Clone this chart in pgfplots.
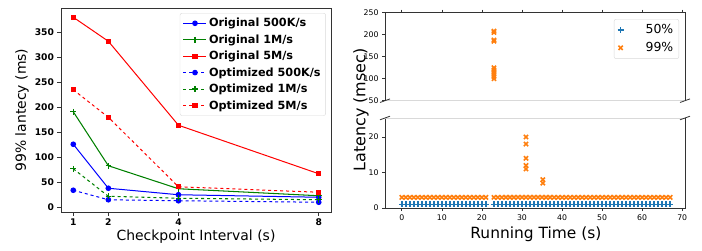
\documentclass[border=0pt]{standalone}
\usepackage{fontspec}
\setmainfont{DejaVu Sans}
\usepackage{pgfplots}
\pgfplotsset{compat=1.18}
\usepackage{pgfplotstable}
\definecolor{tabblue}{HTML}{1F77B4}
\definecolor{taborange}{HTML}{FF7F0E}
\definecolor{mgreen}{RGB}{0,128,0}
\definecolor{spine}{gray}{0.2}
\definecolor{lightspine}{gray}{0.85}

\pgfplotstableread{
x p50 p99
0 1 3
1 1 3
2 1 3
3 1 3
4 1 3
5 1 3
6 1 3
7 1 3
8 1 3
9 1 3
10 1 3
11 1 3
12 1 3
13 1 3
14 1 3
15 1 3
16 1 3
17 1 3
18 1 3
19 1 3
20 1 3
21 1 3
23 1 3
24 1 3
25 1 3
26 1 3
27 1 3
28 1 3
29 1 3
30 1 3
31 1 3
32 1 3
33 1 3
34 1 3
35 1 3
36 1 3
37 1 3
38 1 3
39 1 3
40 1 3
41 1 3
42 1 3
43 1 3
44 1 3
45 1 3
46 1 3
47 1 3
48 1 3
49 1 3
50 1 3
51 1 3
52 1 3
53 1 3
54 1 3
55 1 3
56 1 3
57 1 3
58 1 3
59 1 3
60 1 3
61 1 3
62 1 3
63 1 3
64 1 3
65 1 3
66 1 3
67 1 3
}\base

\pgfplotstableread{
x y
23 100
23 105
23 110
23 115
23 120
23 125
23 185
23 188
23 205
23 208
}\outtop

\pgfplotstableread{
x y
31 11
31 12
31 14
31 18
31 20
35.2 7
35.2 8
}\outbot

\begin{document}
\begin{tikzpicture}
\path[use as bounding box] (0bp,0bp) rectangle (702bp,251bp);

% ---------------- left chart ----------------
\begin{axis}[
  at={(61bp,39bp)}, anchor=south west, scale only axis,
  width=270bp, height=204bp,
  xmin=0.65, xmax=8.35, ymin=-9.5, ymax=398.5,
  xtick={1,2,4,8}, ytick={0,50,...,350},
  tick align=outside, xtick pos=bottom, ytick pos=left,
  major tick length=3.5bp,
  tick style={spine, line width=0.8bp},
  axis line style={spine, line width=0.8bp},
  /pgf/number format/assume math mode=true,
  ticklabel style={font=\fontsize{9.2}{10}\selectfont\bfseries},
  xlabel={Checkpoint Interval (s)},
  ylabel={99\% lantecy (ms)},
  label style={font=\fontsize{14}{16}\selectfont},
  xlabel style={at={(axis description cs:0.5,-0.1225)}, anchor=center},
  ylabel style={at={(axis description cs:-0.1444,0.5)}, anchor=center},
  legend style={at={(0.981,0.975)}, anchor=north east,
    font=\fontsize{11.3}{13}\selectfont\bfseries, draw=black!15,
    rounded corners=2bp, row sep=2.4bp, inner sep=3bp},
  legend cell align=left,
  legend image code/.code={\draw[mark repeat=2,mark phase=2] plot coordinates {(0bp,0bp) (11.5bp,0bp) (23bp,0bp)};},
]
\addplot[color=blue, line width=1bp, mark=*, mark size=2.3bp] coordinates {(1,126) (2,38) (4,25) (8,20)};
\addlegendentry{Original 500K/s}
\addplot[color=mgreen, line width=1.05bp, mark=+, mark size=2.8bp, mark options={solid, line width=1.2bp}] coordinates {(1,191) (2,83) (4,37) (8,23)};
\addlegendentry{Original 1M/s}
\addplot[color=red, line width=1bp, mark=square*, mark size=2.1bp] coordinates {(1,380) (2,332) (4,164) (8,67)};
\addlegendentry{Original 5M/s}
\addplot[color=blue, line width=1bp, dashed, mark=*, mark size=2.3bp, mark options={solid}] coordinates {(1,34) (2,15) (4,13) (8,10)};
\addlegendentry{Optimized 500K/s}
\addplot[color=mgreen, line width=1.05bp, dashed, mark=+, mark size=2.8bp, mark options={solid, line width=1.2bp}] coordinates {(1,77) (2,22) (4,18) (8,15)};
\addlegendentry{Optimized 1M/s}
\addplot[color=red, line width=1bp, dashed, mark=square*, mark size=2.1bp, mark options={solid}] coordinates {(1,235) (2,180) (4,41) (8,30)};
\addlegendentry{Optimized 5M/s}
\end{axis}

% ---------------- right chart, top panel ----------------
\begin{axis}[
  name=top,
  at={(385bp,150.3bp)}, anchor=south west, scale only axis,
  width=300bp, height=88bp,
  xmin=-4.2, xmax=70.7, ymin=50, ymax=250,
  xtick={0,10,...,70}, xticklabels={},
  ytick={50,100,...,250},
  tick align=outside, xtick pos=top, ytick pos=left,
  major tick length=3bp,
  tick style={spine, line width=0.7bp},
  axis line style={spine, line width=0.8bp},
  /pgf/number format/assume math mode=true,
  ticklabel style={font=\fontsize{7.8}{9}\selectfont},
  legend style={at={(0.98,0.928)}, anchor=north east,
    font=\fontsize{12.5}{14}\selectfont, draw=black!15,
    rounded corners=2bp, row sep=3bp, inner sep=3.5bp},
  legend cell align=right,
  legend columns=1,
]
\addlegendimage{only marks, tabblue, mark=+, mark size=3bp, line width=1.6bp}
\addlegendentry{\hspace{20bp}50\%}
\addplot[only marks, taborange, mark=x, mark size=3bp, line width=1.6bp] table[x=x,y=y] {\outtop};
\addlegendentry{\hspace{20bp}99\%}
\end{axis}
\draw[lightspine, line width=1bp] (top.south west) -- (top.south east);

% ---------------- right chart, bottom panel ----------------
\begin{axis}[
  name=bot,
  at={(385bp,43bp)}, anchor=south west, scale only axis,
  width=300bp, height=90bp,
  xmin=-4.2, xmax=70.7, ymin=0, ymax=25.35,
  xtick={0,10,...,70},
  ytick={0,10,20},
  tick align=outside, xtick pos=bottom, ytick pos=left,
  major tick length=3bp,
  tick style={spine, line width=0.7bp},
  axis line style={spine, line width=0.8bp},
  /pgf/number format/assume math mode=true,
  ticklabel style={font=\fontsize{7.8}{9}\selectfont},
  xlabel={Running Time (s)},
  xlabel style={font=\fontsize{15.5}{17}\selectfont, at={(axis description cs:0.503,-0.289)}, anchor=center},
  clip=false,
]
\addplot[only marks, tabblue, mark=+, mark size=3bp, line width=1.6bp] table[x=x,y=p50] {\base};
\addplot[only marks, taborange, mark=x, mark size=3bp, line width=1.6bp] table[x=x,y=p99] {\base};
\addplot[only marks, taborange, mark=x, mark size=3bp, line width=1.6bp] table[x=x,y=y] {\outbot};
\end{axis}
\draw[lightspine, line width=1bp] (bot.north west) -- (bot.north east);

% break marks
\draw[spine, line width=0.8bp] ([shift={(-5bp,-1.8bp)}]top.south west) -- ++(10bp,3.6bp);
\draw[spine, line width=0.8bp] ([shift={(-5bp,-1.8bp)}]top.south east) -- ++(10bp,3.6bp);
\draw[spine, line width=0.8bp] ([shift={(-5bp,-1.8bp)}]bot.north west) -- ++(10bp,3.6bp);
\draw[spine, line width=0.8bp] ([shift={(-5bp,-1.8bp)}]bot.north east) -- ++(10bp,3.6bp);

\node[rotate=90, font=\fontsize{16}{18}\selectfont] at (361bp,141bp) {Latency (msec)};
\end{tikzpicture}
\end{document}
